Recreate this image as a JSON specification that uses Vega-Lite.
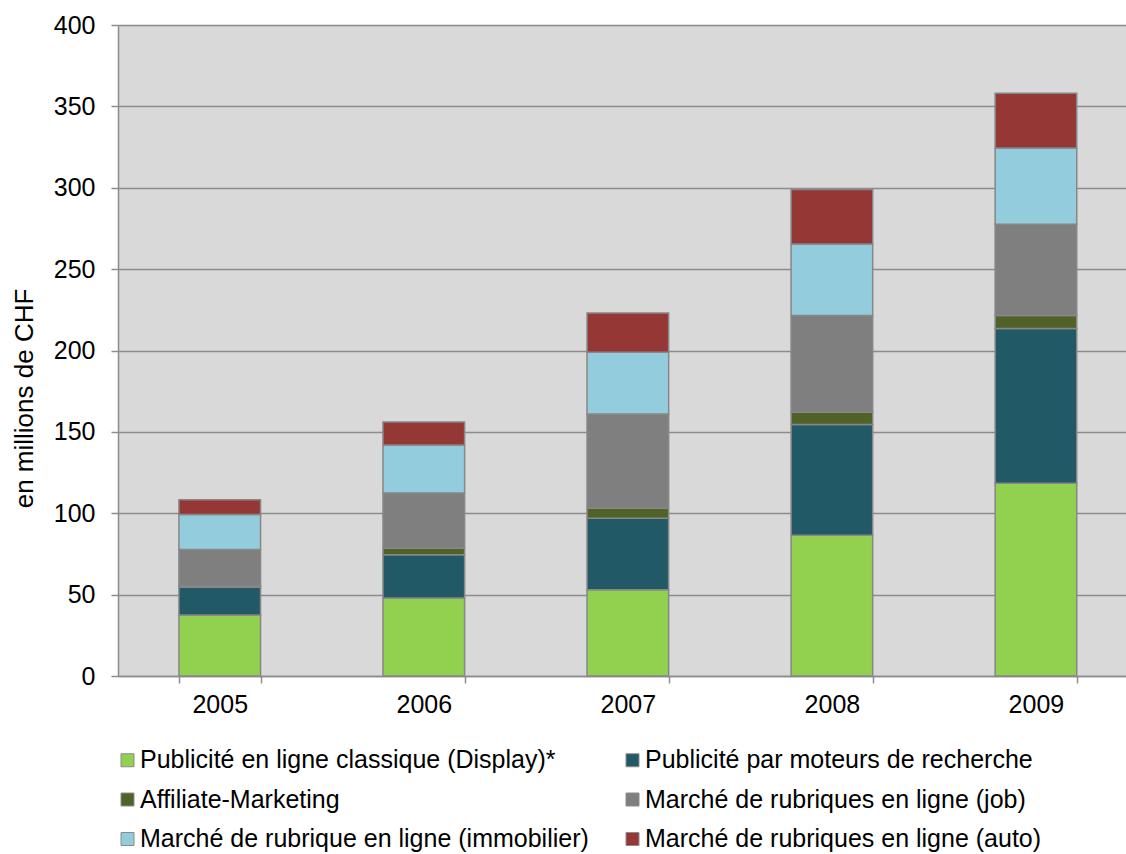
{
  "$schema": "https://vega.github.io/schema/vega-lite/v6.json",
  "width": 1008,
  "height": 651,
  "autosize": {"type": "none"},
  "padding": {"left": 118, "top": 25, "right": 0, "bottom": 178},
  "background": "white",
  "config": {
    "view": {"fill": "#d9d9d9", "stroke": null},
    "font": "Liberation Sans",
    "axis": {"labelFont": "Liberation Sans", "titleFont": "Liberation Sans", "labelColor": "black", "titleColor": "black"},
    "legend": {"labelFont": "Liberation Sans", "padding": 0}
  },
  "data": {
    "values": [
      {"year": "2005", "cat": "Publicité en ligne classique (Display)*", "v": 37.5},
      {"year": "2005", "cat": "Publicité par moteurs de recherche", "v": 17},
      {"year": "2005", "cat": "Affiliate-Marketing", "v": 0.8},
      {"year": "2005", "cat": "Marché de rubriques en ligne (job)", "v": 22.5},
      {"year": "2005", "cat": "Marché de rubrique en ligne (immobilier)", "v": 21.5},
      {"year": "2005", "cat": "Marché de rubriques en ligne (auto)", "v": 9},
      {"year": "2006", "cat": "Publicité en ligne classique (Display)*", "v": 48},
      {"year": "2006", "cat": "Publicité par moteurs de recherche", "v": 26.5},
      {"year": "2006", "cat": "Affiliate-Marketing", "v": 4},
      {"year": "2006", "cat": "Marché de rubriques en ligne (job)", "v": 34},
      {"year": "2006", "cat": "Marché de rubrique en ligne (immobilier)", "v": 29.5},
      {"year": "2006", "cat": "Marché de rubriques en ligne (auto)", "v": 14},
      {"year": "2007", "cat": "Publicité en ligne classique (Display)*", "v": 53},
      {"year": "2007", "cat": "Publicité par moteurs de recherche", "v": 44},
      {"year": "2007", "cat": "Affiliate-Marketing", "v": 6},
      {"year": "2007", "cat": "Marché de rubriques en ligne (job)", "v": 58},
      {"year": "2007", "cat": "Marché de rubrique en ligne (immobilier)", "v": 38},
      {"year": "2007", "cat": "Marché de rubriques en ligne (auto)", "v": 24},
      {"year": "2008", "cat": "Publicité en ligne classique (Display)*", "v": 86.5},
      {"year": "2008", "cat": "Publicité par moteurs de recherche", "v": 68},
      {"year": "2008", "cat": "Affiliate-Marketing", "v": 7.5},
      {"year": "2008", "cat": "Marché de rubriques en ligne (job)", "v": 59.5},
      {"year": "2008", "cat": "Marché de rubrique en ligne (immobilier)", "v": 44},
      {"year": "2008", "cat": "Marché de rubriques en ligne (auto)", "v": 33.5},
      {"year": "2009", "cat": "Publicité en ligne classique (Display)*", "v": 118.5},
      {"year": "2009", "cat": "Publicité par moteurs de recherche", "v": 95},
      {"year": "2009", "cat": "Affiliate-Marketing", "v": 8},
      {"year": "2009", "cat": "Marché de rubriques en ligne (job)", "v": 56},
      {"year": "2009", "cat": "Marché de rubrique en ligne (immobilier)", "v": 47},
      {"year": "2009", "cat": "Marché de rubriques en ligne (auto)", "v": 33.5}
    ]
  },
  "transform": [
    {"calculate": "indexof(['Publicité en ligne classique (Display)*', 'Publicité par moteurs de recherche', 'Affiliate-Marketing', 'Marché de rubriques en ligne (job)', 'Marché de rubrique en ligne (immobilier)', 'Marché de rubriques en ligne (auto)'], datum.cat)", "as": "k"}
  ],
  "mark": {"type": "bar", "stroke": "#878787", "strokeWidth": 1.5},
  "encoding": {
    "x": {
      "field": "year", "type": "nominal",
      "scale": {"paddingInner": 0.6, "paddingOuter": 0.27, "align": 0.553},
      "axis": {
        "title": null, "labelAngle": 0, "labelFontSize": 25, "labelPadding": 9,
        "tickBand": "extent", "tickSize": 7, "tickColor": "#8c8c8c", "tickWidth": 1.5,
        "domainColor": "#8c8c8c", "domainWidth": 1.5, "grid": false
      }
    },
    "y": {
      "field": "v", "type": "quantitative", "stack": "zero",
      "scale": {"domain": [0, 400], "nice": false},
      "axis": {
        "title": "en millions de CHF", "titleFontSize": 26, "titleFontWeight": "normal",
        "titleX": -86, "titleY": 373, "titleAngle": -90, "titleAlign": "center", "titleBaseline": "alphabetic",
        "values": [0, 50, 100, 150, 200, 250, 300, 350, 400],
        "labelFontSize": 25, "labelPadding": 16,
        "tickSize": 7, "tickColor": "#8c8c8c", "tickWidth": 1.5,
        "domainColor": "#8c8c8c", "domainWidth": 1.5,
        "grid": true, "gridColor": "#8c8c8c", "gridWidth": 1.5
      }
    },
    "order": {"field": "k", "type": "quantitative"},
    "color": {
      "field": "cat", "type": "nominal",
      "scale": {
        "domain": ["Publicité en ligne classique (Display)*", "Affiliate-Marketing", "Marché de rubrique en ligne (immobilier)", "Publicité par moteurs de recherche", "Marché de rubriques en ligne (job)", "Marché de rubriques en ligne (auto)"],
        "range": ["#92d050", "#4f6228", "#93cddd", "#215967", "#7f7f7f", "#953735"]
      },
      "legend": {
        "title": null, "orient": "none", "legendX": -3, "legendY": 722.5,
        "columns": 2, "columnPadding": 31, "rowPadding": 13.5, "padding": 0,
        "symbolType": "square", "symbolSize": 169, "symbolStrokeColor": "#8c8c8c", "symbolStrokeWidth": 1,
        "labelFontSize": 25, "labelColor": "black", "labelOffset": 0, "labelLimit": 700
      }
    }
  }
}
